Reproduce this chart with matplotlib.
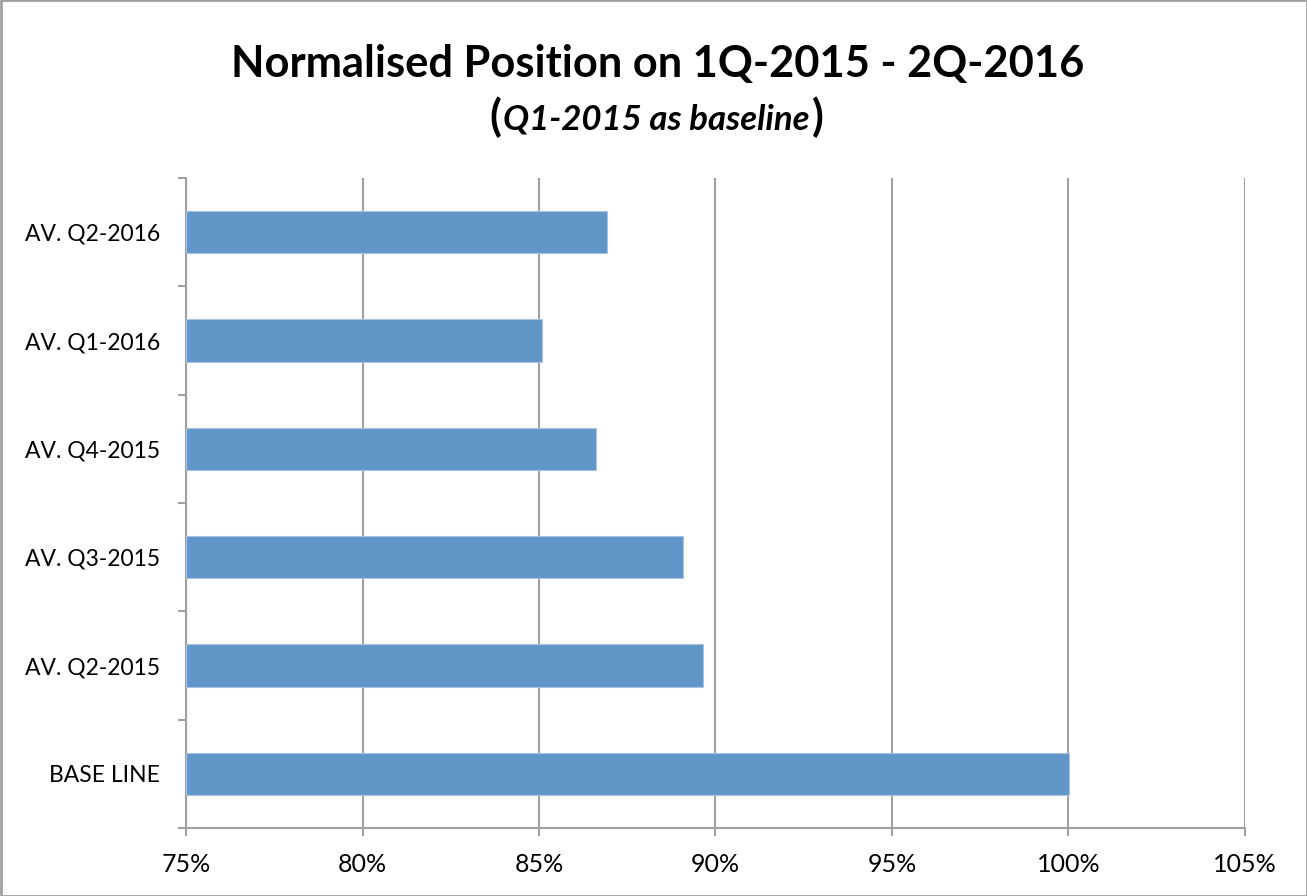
import matplotlib
matplotlib.use("Agg")
import matplotlib.pyplot as plt
from matplotlib.ticker import FuncFormatter, FixedLocator
from matplotlib.patches import Rectangle

categories = ["BASE LINE", "AV. Q2-2015", "AV. Q3-2015", "AV. Q4-2015", "AV. Q1-2016", "AV. Q2-2016"]
values = [100.0, 89.66, 89.07, 86.62, 85.08, 86.93]
xticks = [75, 80, 85, 90, 95, 100, 105]

FONT = ["Lato", "DejaVu Sans"]
plt.rcParams["font.family"] = FONT

fig = plt.figure(figsize=(13.07, 8.96), dpi=100)
ax = fig.add_axes([186/1307, 1-828/896, (1245-186)/1307, (828-178)/896])

ypos = list(range(len(categories)))
ax.barh(ypos, [v - 75 for v in values], left=75, height=0.39,
        color="#6096C8", edgecolor="#A9C4E2", linewidth=0.8, zorder=3)

ax.set_xlim(75, 105)
ax.set_ylim(-0.5, len(categories) - 0.5)
ax.set_xticks(xticks)
ax.xaxis.set_major_formatter(FuncFormatter(lambda v, p: f"{v:.0f}%"))
ax.grid(axis="x", color="#A0A0A0", linewidth=1.5, zorder=0)
for s in ["top", "right"]:
    ax.spines[s].set_visible(False)
ax.spines["bottom"].set_color("#A0A0A0")
ax.spines["bottom"].set_linewidth(1.5)
ax.spines["left"].set_color("#A0A0A0")
ax.spines["left"].set_linewidth(1.5)

ax.set_yticks(ypos)
ax.set_yticklabels(categories)
ax.yaxis.set_minor_locator(FixedLocator([i + 0.5 for i in range(-1, len(categories))]))
ax.tick_params(axis="y", which="major", length=0, pad=18.5, labelsize=16.5)
ax.tick_params(axis="y", which="minor", length=6, width=1.5, color="#A0A0A0")
ax.tick_params(axis="x", which="major", length=6, width=1.5, color="#A0A0A0", labelsize=18, pad=12)

fig.text(0.503, 1-64/896, "Normalised Position on 1Q-2015 - 2Q-2016", ha="center", va="center",
         fontsize=31.2, fontweight="bold")
sub_y = 1-119/896
t1 = fig.text(0.502, sub_y, "Q1-2015 as baseline", ha="center", va="center", fontsize=25,
              fontweight="bold", style="italic")
fig.canvas.draw()
bb = t1.get_window_extent()
fig.text(bb.x0/1307 - 0.001, sub_y + 0.002, "(", ha="right", va="center", fontsize=31, fontweight="bold")
fig.text(bb.x1/1307 + 0.002, sub_y + 0.002, ")", ha="left", va="center", fontsize=31, fontweight="bold")

fig.patches.append(Rectangle((0.5/1307, 0.5/896), 1-1/1307, 1-1/896, transform=fig.transFigure,
                             fill=False, edgecolor="#A0A0A0", linewidth=2))

fig.savefig("out.png", dpi=100)
